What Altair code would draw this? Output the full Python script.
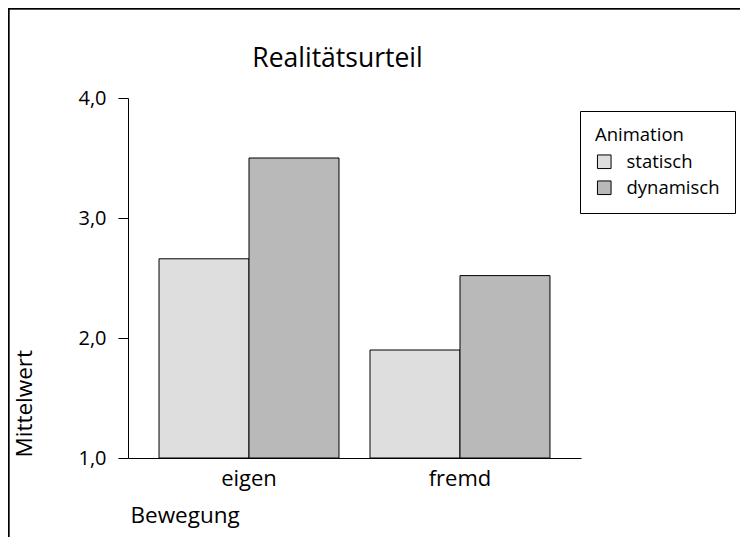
import altair as alt
import pandas as pd

categories = ["eigen", "fremd"]
groups = ["statisch", "dynamisch"]
statisch = [2.66, 1.90]
dynamisch = [3.50, 2.52]
y_ticks = [1, 2, 3, 4]

rows = []
for i, c in enumerate(categories):
    rows.append({"Bewegung": c, "Animation": "statisch", "Mittelwert": statisch[i], "base": 1})
    rows.append({"Bewegung": c, "Animation": "dynamisch", "Mittelwert": dynamisch[i], "base": 1})
df = pd.DataFrame(rows)

FONT = "Open Sans"

bars = alt.Chart(df).mark_bar(stroke="black", strokeWidth=1).encode(
    x=alt.X("Bewegung:N", sort=categories,
            scale=alt.Scale(paddingInner=0.147, paddingOuter=0.147),
            axis=alt.Axis(title="Bewegung", labelAngle=0, ticks=False,
                          domainColor="black", labelColor="black",
                          labelFontSize=22, labelFont=FONT, labelPadding=10,
                          titleFont=FONT, titleFontSize=22.5, titleFontWeight="normal",
                          titleAnchor="start", titleAlign="left", titleBaseline="alphabetic",
                          titleX=2, titleY=64, titleColor="black")),
    xOffset=alt.XOffset("Animation:N", sort=groups,
                        scale=alt.Scale(paddingInner=0, paddingOuter=0)),
    y=alt.Y("Mittelwert:Q", scale=alt.Scale(domain=[1, 4], zero=False, nice=False),
            axis=alt.Axis(title="Mittelwert", values=y_ticks, grid=False,
                          labelExpr="replace(format(datum.value, '.1f'), '.', ',')",
                          tickSize=10, tickColor="black", domainColor="black",
                          labelColor="black", labelFontSize=20, labelFont=FONT,
                          labelPadding=12,
                          titleFont=FONT, titleFontSize=22.5, titleFontWeight="normal",
                          titleAngle=270, titleAlign="left", titleBaseline="alphabetic",
                          titleX=-97, titleY=359, titleColor="black")),
    y2=alt.Y2("base:Q"),
    color=alt.Color("Animation:N", sort=groups,
                    scale=alt.Scale(domain=groups, range=["#dedede", "#b9b9b9"]),
                    legend=alt.Legend(title="Animation", orient="none",
                                      legendX=452, legendY=13,
                                      strokeColor="black", fillColor="white",
                                      padding=15, symbolType="square", symbolSize=185,
                                      symbolStrokeColor="black", symbolStrokeWidth=1,
                                      symbolOpacity=1,
                                      titleFont=FONT, titleFontSize=18.5, titleFontWeight="normal",
                                      titleColor="black", titlePadding=8,
                                      labelFont=FONT, labelFontSize=18.5, labelColor="black",
                                      labelOffset=13, rowPadding=7)),
)

frame_left = alt.Chart(df).mark_rule(color="black", strokeWidth=1.5).encode(
    x=alt.value(-119.5), y=alt.value(-90), y2=alt.value(460)
)
frame_top = alt.Chart(df).mark_rule(color="black", strokeWidth=1.5).encode(
    x=alt.value(-120), x2=alt.value(640), y=alt.value(-89.5)
)

chart = alt.layer(bars, frame_left, frame_top).properties(
    width=453, height=360,
    background="white",
    autosize=alt.AutoSizeParams(type="none"),
    padding={"left": 120, "top": 90, "right": 159, "bottom": 79},
    title=alt.TitleParams("Realitätsurteil", font=FONT, fontSize=26.5, fontWeight="normal",
                          color="black", anchor="middle", frame="group", dx=-17,
                          baseline="alphabetic", offset=-86),
).configure_view(stroke=None)

chart.save("out.html", embed_options={"renderer": "svg", "actions": False})
